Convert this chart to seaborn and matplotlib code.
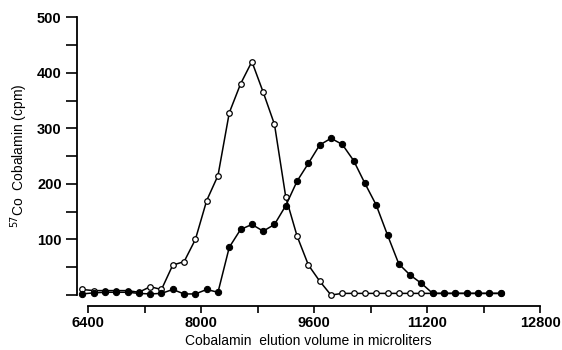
import numpy as np
import pandas as pd
import matplotlib
matplotlib.use("Agg")
import matplotlib.pyplot as plt
import seaborn as sns

# elution volume (microliters), fractions every 160 ul
volume = list(range(6320, 12241, 160))

# open circles
open_cpm = [10, 8, 8, 8, 8, 5, 15, 10, 54, 60, 100, 170, 215, 328, 380, 420,
            365, 307, 176, 106, 54, 25, 0, 3, 3, 3, 3, 3, 3, 3, 3, 3, 3, 3,
            3, 3, 3, 3]
# filled circles
filled_cpm = [2, 4, 5, 5, 5, 3, 2, 3, 10, 2, 2, 10, 5, 86, 118, 127, 115, 127,
              161, 205, 237, 270, 282, 271, 242, 201, 162, 108, 56, 36, 21, 3,
              3, 3, 3, 3, 3, 3]

x_ticks = [6400, 8000, 9600, 11200, 12800]
y_ticks = [0, 100, 200, 300, 400, 500]
y_labels = ["", "100", "200", "300", "400", "500"]

df = pd.DataFrame({"volume": volume, "open": open_cpm, "filled": filled_cpm})

sns.set_style("ticks", {"axes.edgecolor": "black", "xtick.color": "black",
                        "ytick.color": "black", "text.color": "black",
                        "axes.labelcolor": "black"})
plt.rcParams["font.family"] = ["Liberation Sans", "DejaVu Sans"]

fig = plt.figure(figsize=(5.62, 3.5), dpi=100)
ax = fig.add_axes([0.137, 0.157, 0.824, 0.794])

sns.lineplot(data=df, x="volume", y="open", ax=ax, color="black", lw=1.1,
             marker="o", markersize=4, markerfacecolor="white",
             markeredgecolor="black", markeredgewidth=0.9, clip_on=False, zorder=3)
sns.lineplot(data=df, x="volume", y="filled", ax=ax, color="black", lw=1.1,
             marker="o", markersize=4.5, markerfacecolor="black",
             markeredgecolor="black", clip_on=False, zorder=4)

ax.set_xlim(6244, 12800)
ax.set_ylim(0, 500)
ax.set_xticks(x_ticks)
ax.set_xticks([7200, 8800, 10400, 12000], minor=True)
ax.set_yticks(y_ticks)
ax.set_yticklabels(y_labels)
ax.set_yticks([50, 150, 250, 350, 450], minor=True)

sns.despine(ax=ax)
ax.spines["bottom"].set_position(("outward", 8))
ax.spines["bottom"].set_bounds(6400, 12800)
for s in ["left", "bottom"]:
    ax.spines[s].set_linewidth(1.3)
ax.tick_params(axis="y", which="both", direction="out", width=1.2, length=8,
               labelsize=10.5, pad=3)
ax.tick_params(axis="x", which="both", direction="out", width=1.2, length=5,
               labelsize=10.5, pad=2)
for lab in ax.get_xticklabels() + ax.get_yticklabels():
    lab.set_fontweight("bold")

ax.set_xlabel("Cobalamin  elution volume in microliters", fontsize=10, labelpad=3)
ax.set_ylabel(r"$^{57}$Co  Cobalamin (cpm)", fontsize=10, labelpad=5)

fig.savefig("out.png", dpi=100)
